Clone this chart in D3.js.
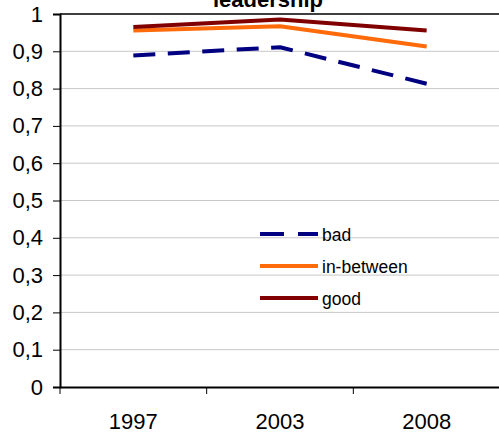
<!DOCTYPE html>
<html><head><meta charset="utf-8">
<script src="https://cdn.jsdelivr.net/npm/d3@7"></script>
<style>body{margin:0;background:#fff}svg{display:block}</style>
</head><body><svg id="c" width="499" height="436"></svg>
<script>
const years = ["1997", "2003", "2008"];
const bad = [0.889, 0.911, 0.813];
const inBetween = [0.956, 0.967, 0.913];
const good = [0.965, 0.985, 0.956];
const yTicks = [0, 0.1, 0.2, 0.3, 0.4, 0.5, 0.6, 0.7, 0.8, 0.9, 1];
const seriesNames = ["bad", "in-between", "good"];

const series = [
  {name: seriesNames[0], values: bad, color: "#000080", dashed: true},
  {name: seriesNames[1], values: inBetween, color: "#ff6a0a", dashed: false},
  {name: seriesNames[2], values: good, color: "#800000", dashed: false}
];

const svg = d3.select("#c");
const L = 60, R = 500, T = 14, B = 387;
const x = d3.scaleBand().domain(years).range([L, R]);
const y = d3.scaleLinear().domain([0, 1]).range([B, T]);
const font = "'Liberation Sans', Arial, sans-serif";

// gridlines
svg.append("g").selectAll("line").data(yTicks.filter(d => d > 0 && d < 1)).join("line")
  .attr("x1", L).attr("x2", R).attr("y1", d => y(d)).attr("y2", d => y(d))
  .attr("stroke", "#c8c8c8").attr("stroke-width", 1);

// top border
svg.append("line").attr("x1", L).attr("x2", R).attr("y1", T).attr("y2", T)
  .attr("stroke", "#000").attr("stroke-width", 1.5);

// y axis
const yAxis = svg.append("g").attr("transform", `translate(${L},0)`)
  .call(d3.axisLeft(y).tickValues(yTicks).tickSize(7).tickPadding(10)
    .tickFormat(d => d3.format(".1~f")(d).replace(".", ",")));
yAxis.select(".domain").attr("stroke", "#000").attr("stroke-width", 2);
yAxis.selectAll(".tick line").attr("stroke", "#000").attr("stroke-width", 1);
yAxis.selectAll("text").attr("font-family", font).attr("font-size", 22).attr("fill", "#000");

// x axis
const xAxis = svg.append("g").attr("transform", `translate(0,${B})`)
  .call(d3.axisBottom(x).tickSize(0).tickPadding(26));
xAxis.select(".domain").attr("stroke", "#000").attr("stroke-width", 2);
xAxis.selectAll("text").attr("font-family", font).attr("font-size", 22).attr("fill", "#000");
// category separator ticks
svg.append("g").selectAll("line").data(years.map(d => x(d))).join("line")
  .attr("x1", d => d).attr("x2", d => d).attr("y1", B).attr("y2", B + 7)
  .attr("stroke", "#000").attr("stroke-width", 1);

// lines
const line = d3.line().x((d, i) => x(years[i]) + x.bandwidth() / 2).y(d => y(d));
series.forEach(s => {
  const p = svg.append("path").datum(s.values).attr("d", line)
    .attr("fill", "none").attr("stroke", s.color).attr("stroke-width", 4)
    .attr("stroke-linejoin", "round");
  if (s.dashed) {
    const len = p.node().getTotalLength();
    const dash = 22, period = (len - dash) / 8;
    p.attr("stroke-dasharray", `${dash},${period - dash}`);
  }
});

// title
svg.append("text").attr("x", 268).attr("y", 7).attr("text-anchor", "middle")
  .attr("font-family", font).attr("font-weight", "bold").attr("font-size", 22)
  .text("leadership");

// legend
const lg = svg.append("g");
series.forEach((s, i) => {
  const ly = 234 + i * 32;
  lg.append("line").attr("x1", 260).attr("x2", 318).attr("y1", ly).attr("y2", ly)
    .attr("stroke", s.color).attr("stroke-width", 4).attr("stroke-dasharray", s.dashed ? "24,14" : null);
  lg.append("text").attr("x", 322).attr("y", ly + 7).attr("font-family", font)
    .attr("font-size", 17.5).text(s.name);
});
</script></body></html>
